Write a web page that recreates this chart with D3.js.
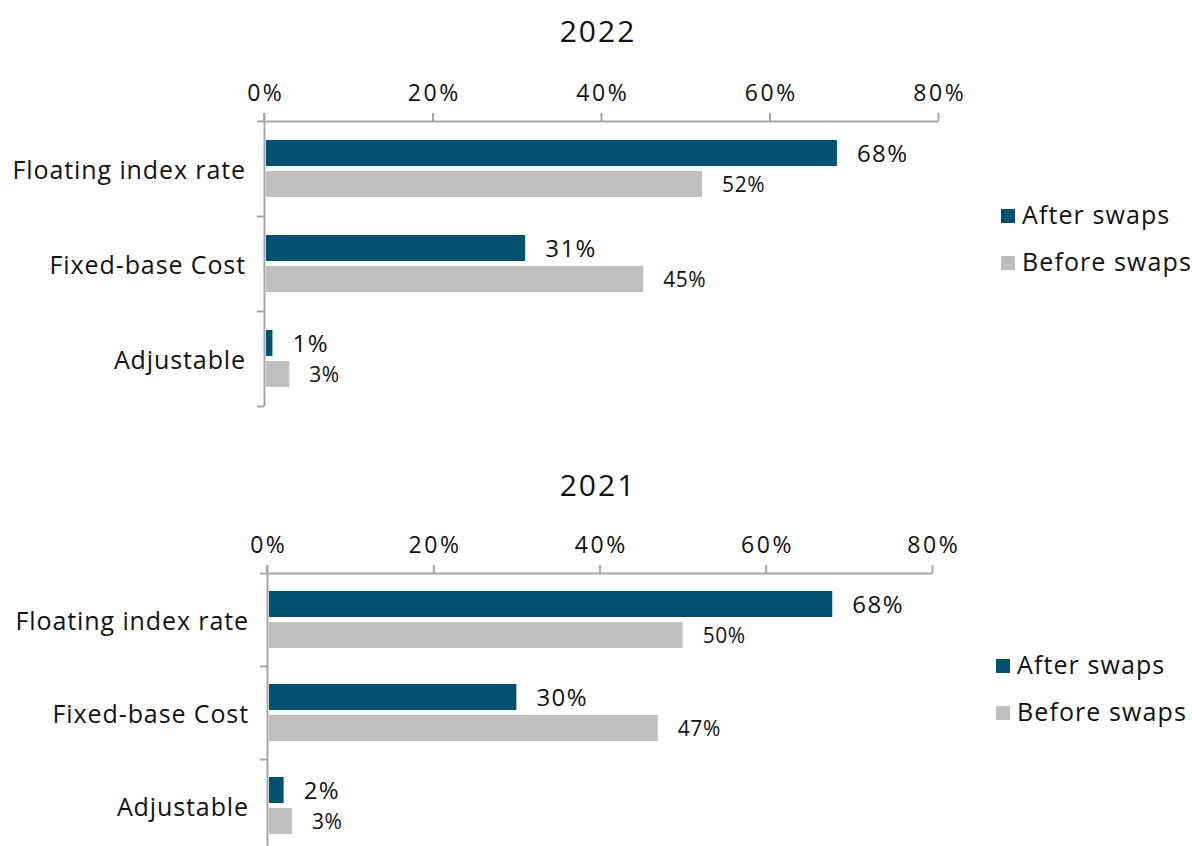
<!DOCTYPE html>
<html>
<head>
<meta charset="utf-8">
<script src="https://cdn.jsdelivr.net/npm/d3@7"></script>
<style>
  body { margin: 0; background: #fff; }
  svg { font-family: "Open Sans", sans-serif; }
</style>
</head>
<body>
<svg id="chart" width="1192" height="846"></svg>
<script>
const categories = ['Floating index rate', 'Fixed-base Cost', 'Adjustable'];
const seriesNames = ['After swaps', 'Before swaps'];
const after2022 = [68, 31, 1];
const before2022 = [52, 45, 3];
const after2021 = [68, 30, 2];
const before2021 = [50, 47, 3];
const xTicks = [0, 20, 40, 60, 80];

const colors = ['#00506f', '#bfbfbf'];
const axisColor = '#a6a6a6';
const font = '"Open Sans", sans-serif';

const panels = [
  { title: '2022', after: after2022, before: before2022, x0: 264, x1: 938, top: 121, band: 95, titleY: 42, labelX: 245, legendX: 1001, legendY: 216 },
  { title: '2021', after: after2021, before: before2021, x0: 267, x1: 932, top: 573, band: 93, titleY: 496, labelX: 248, legendX: 996, legendY: 666 }
];

const $svg = d3.select('#chart');

panels.forEach(p => {
  const $g = $svg.append('g');
  const x = d3.scaleLinear().domain([0, 80]).range([p.x0, p.x1]);
  const y = d3.scaleBand().domain(categories).range([p.top, p.top + p.band * 3]);
  const yEdge = d3.scaleLinear().domain([0, 3]).range([p.top, p.top + p.band * 3]);

  $g.append('text')
    .attr('x', 598).attr('y', p.titleY)
    .attr('text-anchor', 'middle')
    .attr('font-size', 30)
    .attr('letter-spacing', 2)
    .attr('fill', '#111')
    .text(p.title);

  // top axis
  const $xAxis = $g.append('g')
    .attr('transform', `translate(0,${p.top})`)
    .call(d3.axisTop(x).tickValues(xTicks).tickFormat(d => d + '%').tickSize(8).tickSizeOuter(0).tickPadding(12));
  $xAxis.select('.domain').attr('stroke', axisColor).attr('stroke-width', 2);
  $xAxis.selectAll('.tick line').attr('stroke', axisColor).attr('stroke-width', 2);
  $xAxis.selectAll('.tick text')
    .attr('font-size', 23).attr('fill', '#111').attr('font-family', font)
    .attr('letter-spacing', 2.5).attr('dx', 1.25);

  // left axis (ticks between categories)
  const $yAxis = $g.append('g')
    .attr('transform', `translate(${p.x0},0)`)
    .call(d3.axisLeft(yEdge).tickValues([0, 1, 2, 3]).tickFormat('').tickSize(7).tickSizeOuter(0));
  $yAxis.select('.domain').attr('stroke', axisColor).attr('stroke-width', 2);
  $yAxis.selectAll('.tick line').attr('stroke', axisColor).attr('stroke-width', 2);
  $g.append('line')
    .attr('x1', p.x0).attr('x2', p.x0)
    .attr('y1', p.top - 8).attr('y2', p.top)
    .attr('stroke', axisColor).attr('stroke-width', 2);

  $g.selectAll('text.cat')
    .data(categories)
    .join('text')
    .attr('class', 'cat')
    .attr('x', p.labelX + 1)
    .attr('y', d => y(d) + y.bandwidth() / 2 + 10)
    .attr('text-anchor', 'end')
    .attr('font-size', 25)
    .attr('letter-spacing', 0.9)
    .attr('fill', '#111')
    .text(d => d);

  const barH = 26, gap = 5;
  const rows = categories.map((c, i) => [
    { cat: c, s: 0, v: p.after[i] },
    { cat: c, s: 1, v: p.before[i] }
  ]).flat();
  const barY = d => y(d.cat) + y.bandwidth() / 2 - barH - gap / 2 + d.s * (barH + gap);

  $g.selectAll('rect.bar')
    .data(rows)
    .join('rect')
    .attr('class', 'bar')
    .attr('x', x(0) + 2)
    .attr('y', barY)
    .attr('width', d => x(d.v) - x(0) - 2)
    .attr('height', barH)
    .attr('fill', d => colors[d.s]);

  $g.selectAll('text.val')
    .data(rows)
    .join('text')
    .attr('class', 'val')
    .attr('x', d => x(d.v) + 20)
    .attr('y', d => barY(d) + barH / 2 + (d.s === 0 ? 8.5 : 7.5))
    .attr('font-size', d => d.s === 0 ? 24 : 21)
    .attr('letter-spacing', d => d.s === 0 ? 1.5 : 0.6)
    .attr('fill', '#111')
    .text(d => d.v + '%');

  const $leg = $g.selectAll('g.leg')
    .data(seriesNames)
    .join('g')
    .attr('class', 'leg')
    .attr('transform', (d, i) => `translate(${p.legendX},${p.legendY + i * 47})`);
  $leg.append('rect')
    .attr('x', 0).attr('y', -7).attr('width', 14).attr('height', 14)
    .attr('fill', (d, i) => colors[i]);
  $leg.append('text')
    .attr('x', 21).attr('y', 7.5)
    .attr('font-size', 25)
    .attr('letter-spacing', 1.1)
    .attr('fill', '#111')
    .text(d => d);
});
</script>
</body>
</html>
